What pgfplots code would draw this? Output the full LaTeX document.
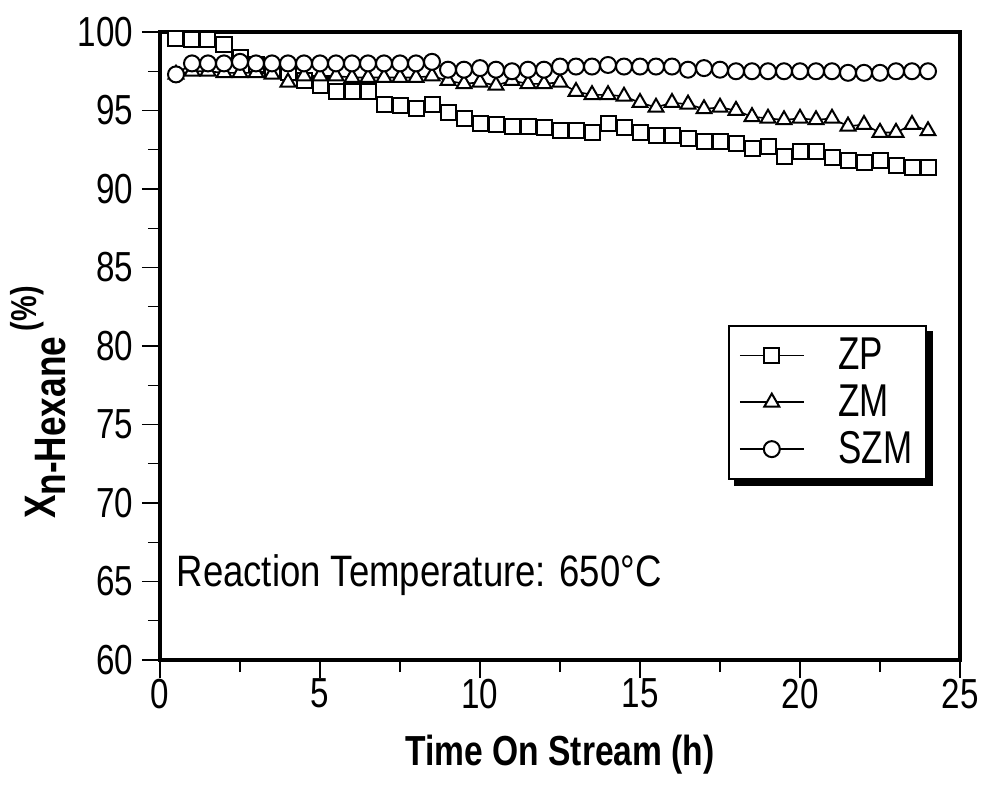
\documentclass[border=0pt]{standalone}
\usepackage{pgfplots}
\pgfplotsset{compat=1.18}
\usepackage{fontspec}
\setmainfont{Liberation Sans}
\usepackage{graphicx}
\newcommand{\tcond}[1]{\scalebox{0.79}[1]{#1}}
\newcommand{\lcond}[1]{\scalebox{0.80}[1]{#1}}
\newcommand{\gcond}[1]{\scalebox{0.76}[1]{#1}}
\newcommand{\fs}{\fontsize{21}{25}\selectfont}
\newcommand{\fl}{\fontsize{23}{27}\selectfont}

\pgfplotstableread{
x y
0.5 99.6
1.0 99.5
1.5 99.5
2.0 99.2
2.5 98.4
3.0 97.9
3.5 97.6
4.0 97.4
4.5 96.9
5.0 96.6
5.5 96.2
6.0 96.2
6.5 96.2
7.0 95.4
7.5 95.3
8.0 95.1
8.5 95.4
9.0 94.9
9.5 94.5
10.0 94.2
10.5 94.1
11.0 94.0
11.5 94.0
12.0 93.9
12.5 93.7
13.0 93.7
13.5 93.6
14.0 94.2
14.5 93.9
15.0 93.6
15.5 93.4
16.0 93.4
16.5 93.2
17.0 93.0
17.5 93.0
18.0 92.9
18.5 92.6
19.0 92.7
19.5 92.1
20.0 92.4
20.5 92.4
21.0 92.0
21.5 91.8
22.0 91.7
22.5 91.8
23.0 91.5
23.5 91.4
24.0 91.4
}\zp

\pgfplotstableread{
x y
0.5 97.3
1.0 97.5
1.5 97.5
2.0 97.4
2.5 97.4
3.0 97.4
3.5 97.3
4.0 96.8
4.5 97.2
5.0 97.2
5.5 97.2
6.0 97.1
6.5 97.1
7.0 97.1
7.5 97.1
8.0 97.1
8.5 97.2
9.0 96.9
9.5 96.7
10.0 96.8
10.5 96.6
11.0 96.9
11.5 96.7
12.0 96.7
12.5 96.8
13.0 96.2
13.5 96.0
14.0 96.0
14.5 95.9
15.0 95.5
15.5 95.2
16.0 95.5
16.5 95.4
17.0 95.1
17.5 95.2
18.0 95.0
18.5 94.6
19.0 94.5
19.5 94.4
20.0 94.5
20.5 94.4
21.0 94.5
21.5 94.0
22.0 94.1
22.5 93.6
23.0 93.6
23.5 94.1
24.0 93.7
}\zm

\pgfplotstableread{
x y
0.5 97.3
1.0 98.0
1.5 98.0
2.0 98.0
2.5 98.1
3.0 98.0
3.5 98.0
4.0 98.0
4.5 98.0
5.0 98.0
5.5 98.0
6.0 98.0
6.5 98.0
7.0 98.0
7.5 98.0
8.0 98.0
8.5 98.1
9.0 97.6
9.5 97.6
10.0 97.7
10.5 97.6
11.0 97.5
11.5 97.6
12.0 97.6
12.5 97.8
13.0 97.8
13.5 97.8
14.0 97.9
14.5 97.8
15.0 97.8
15.5 97.8
16.0 97.8
16.5 97.6
17.0 97.7
17.5 97.6
18.0 97.5
18.5 97.5
19.0 97.5
19.5 97.5
20.0 97.5
20.5 97.5
21.0 97.5
21.5 97.4
22.0 97.4
22.5 97.4
23.0 97.5
23.5 97.5
24.0 97.5
}\szm

\begin{document}
\begin{tikzpicture}
\begin{axis}[
  at={(0,0)}, anchor=south west,
  scale only axis, width=400pt, height=314pt,
  xmin=0, xmax=25, ymin=60, ymax=100,
  xtick={0,5,...,25}, ytick={60,65,...,100},
  minor x tick num=1, minor y tick num=1,
  xtick pos=left, ytick pos=left,
  tick align=outside,
  major tick length=9pt, minor tick length=6pt,
  axis line style={line width=2pt},
  every tick/.style={black, line width=0.6pt},
  /pgf/number format/assume math mode=true,
  tick label style={font=\fs},
  xticklabel style={yshift=3pt},
  yticklabel style={xshift=-1pt},
  xticklabel={\tcond{\pgfmathprintnumber{\tick}}},
  yticklabel={\tcond{\pgfmathprintnumber{\tick}}},
  xlabel={\lcond{Time On Stream (h)}},
  xlabel style={font=\fs\bfseries, at={(axis description cs:0.5,-0.151)}, anchor=center},
  ylabel={\lcond{X\raisebox{-0.45ex}{n-Hexane}\,\raisebox{0.8ex}{\fontsize{18}{21}\selectfont(\%)}}},
  ylabel style={font=\fontsize{22}{26}\selectfont\bfseries, at={(axis description cs:-0.152,0.41)}, anchor=center},
  legend style={name=leg, at={(axis description cs:0.71,0.533)}, anchor=north west, draw=black, line width=1pt, fill=white, font=\fl, inner xsep=5pt, inner ysep=4pt, row sep=2pt,
    /tikz/every odd column/.style={column sep=15pt}},
  legend cell align=left,
  legend image code/.code={\draw[mark repeat=2,mark phase=2,#1] plot coordinates {(0pt,0pt) (16pt,0pt) (32pt,0pt)};},
]
\addplot[black, line width=0.8pt, mark=square*, mark size=3.75pt, mark options={fill=white, line width=1pt}] table {\zp};
\addlegendentry{\gcond{ZP}}
\addplot[black, line width=0.8pt, mark=triangle*, mark size=4.3pt, mark options={fill=white, line width=1pt}] table {\zm};
\addlegendentry{\gcond{ZM}}
\addplot[black, line width=0.8pt, mark=*, mark size=4pt, mark options={fill=white, line width=1pt}] table {\szm};
\addlegendentry{\gcond{SZM}}
\node[anchor=west, font=\fontsize{22}{26}\selectfont] at (axis description cs:0.012,0.135) {\scalebox{0.83}[1]{Reaction Temperature: 650°C}};
\end{axis}
\fill[black] ([yshift=-3pt]leg.north east) rectangle ([xshift=3pt,yshift=-3pt]leg.south east);
\fill[black] ([xshift=3pt]leg.south west) rectangle ([xshift=3pt,yshift=-3pt]leg.south east);
\pgfresetboundingbox
\path[use as bounding box] (-80pt,-63.5pt) rectangle (411.5pt,330pt);
\end{tikzpicture}
\end{document}
